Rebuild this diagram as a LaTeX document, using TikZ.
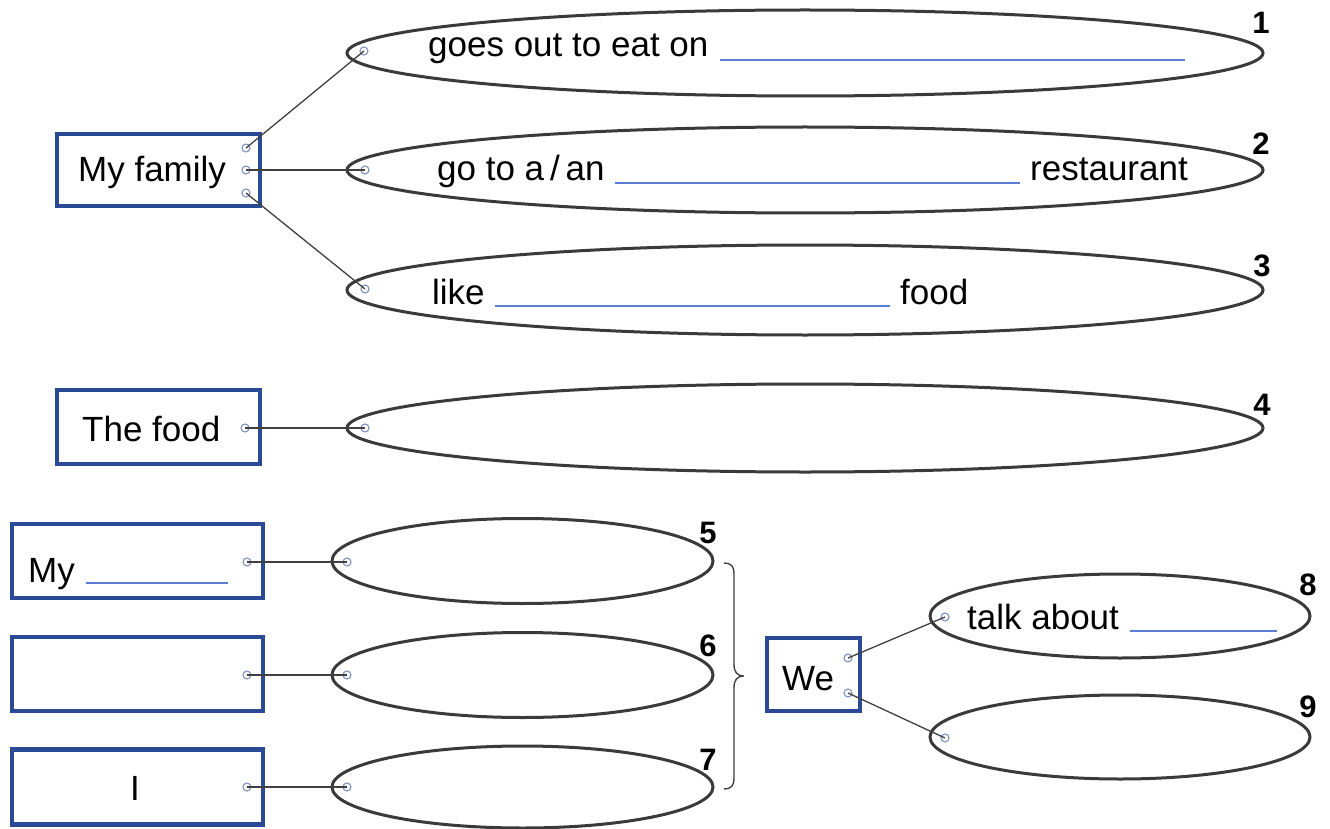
\documentclass[tikz,border=0pt]{standalone}
\usepackage{fontspec}
\setmainfont{Liberation Sans}
\usetikzlibrary{shapes.geometric}
\definecolor{boxblue}{HTML}{2B4A96}
\definecolor{ellgray}{HTML}{3A3A3A}
\definecolor{linegray}{HTML}{404040}
\definecolor{dotblue}{HTML}{7F8FC0}
\definecolor{blankblue}{HTML}{5A7ED6}
\begin{document}
\begin{tikzpicture}[x=1pt,y=-1pt,
 labelbox/.style={draw=boxblue, line width=4.3pt, rectangle, inner sep=0pt},
 oval/.style={draw=ellgray, line width=3pt, ellipse, inner sep=0pt},
 dot/.style={draw=dotblue, line width=1.1pt, circle, inner sep=0pt, minimum size=8pt},
 conn/.style={draw=linegray, line width=1.3pt},
 blank/.style={draw=blankblue, line width=1.3pt},
 txt/.style={font=\fontsize{35}{40}\selectfont, inner sep=0pt, anchor=base west},
 num/.style={font=\fontsize{31}{36}\selectfont\bfseries, inner sep=0pt}]
\useasboundingbox (0,0) rectangle (1330,829);

% boxes
\node[labelbox, minimum width=203pt, minimum height=72pt] (fam) at (158.5,170) {};
\node[labelbox, minimum width=203pt, minimum height=74pt] (food) at (158.5,427) {};
\node[labelbox, minimum width=251pt, minimum height=74pt] (b5) at (137.5,561) {};
\node[labelbox, minimum width=251pt, minimum height=74pt] (b6) at (137.5,674) {};
\node[labelbox, minimum width=251pt, minimum height=75pt] (b7) at (137.5,787) {};
\node[labelbox, minimum width=93pt, minimum height=73pt] (we) at (813.5,674.5) {};

% ellipses
\node[oval, minimum width=916pt, minimum height=86pt] (e1) at (805,53) {};
\node[oval, minimum width=916pt, minimum height=86pt] (e2) at (805,170) {};
\node[oval, minimum width=916pt, minimum height=90pt] (e3) at (805,290) {};
\node[oval, minimum width=916pt, minimum height=88pt] (e4) at (805,428) {};
\node[oval, minimum width=381pt, minimum height=85pt] (e5) at (522.5,561) {};
\node[oval, minimum width=381pt, minimum height=85pt] (e6) at (522.5,675) {};
\node[oval, minimum width=381pt, minimum height=82pt] (e7) at (522.5,787) {};
\node[oval, minimum width=380pt, minimum height=84pt] (e8) at (1120,616) {};
\node[oval, minimum width=380pt, minimum height=84pt] (e9) at (1120,737) {};

% texts
\node[txt] (tfam) at (78,182) {My family};
\node[txt] (tfood) at (82,441) {The food};
\node[txt] (tmy) at (28,582) {My};
\node[txt] (ti) at (130,800) {I};
\node[txt] (twe) at (782,690) {We};
\node[txt] (t1) at (428,57) {goes out to eat on};
\node[txt] (t2a) at (437,181) {go to a\,/\,an};
\node[txt] (t2b) at (1030,181) {restaurant};
\node[txt] (t3a) at (432,304) {like};
\node[txt] (t3b) at (900,304) {food};
\node[txt] (t8) at (967,629) {talk about};

% blanks
\draw[blank] (720,60) -- (1185,60);
\draw[blank] (615,183) -- (1020,183);
\draw[blank] (495,306) -- (890,306);
\draw[blank] (86,583) -- (228,583);
\draw[blank] (1130,631) -- (1277,631);

% numbers
\node[num] (n1) at (1261,23) {1};
\node[num] (n2) at (1261,144) {2};
\node[num] (n3) at (1262,266) {3};
\node[num] (n4) at (1262,405) {4};
\node[num] (n5) at (708,533) {5};
\node[num] (n6) at (708,646) {6};
\node[num] (n7) at (708,760) {7};
\node[num] (n8) at (1308,585) {8};
\node[num] (n9) at (1308,707) {9};

% connection dots
\node[dot] (fa) at (246,148) {};
\node[dot] (fb) at (246,170) {};
\node[dot] (fc) at (246,193) {};
\node[dot] (e1p) at (364,51) {};
\node[dot] (e2p) at (365,170) {};
\node[dot] (e3p) at (365,289) {};
\node[dot] (fdp) at (245,428) {};
\node[dot] (e4p) at (365,428) {};
\node[dot] (b5p) at (247,562) {};
\node[dot] (b6p) at (247,675) {};
\node[dot] (b7p) at (247,787) {};
\node[dot] (e5p) at (347,562) {};
\node[dot] (e6p) at (347,675) {};
\node[dot] (e7p) at (347,787) {};
\node[dot] (wa) at (848,658) {};
\node[dot] (wb) at (848,693) {};
\node[dot] (e8p) at (945,617) {};
\node[dot] (e9p) at (945,738) {};

% connectors
\draw[conn] (fa.center) -- (e1p.center);
\draw[conn] (fb.center) -- (e2p.center);
\draw[conn] (fc.center) -- (e3p.center);
\draw[conn] (fdp.center) -- (e4p.center);
\draw[conn] (b5p.center) -- (e5p.center);
\draw[conn] (b6p.center) -- (e6p.center);
\draw[conn] (b7p.center) -- (e7p.center);
\draw[conn] (wa.center) -- (e8p.center);
\draw[conn] (wb.center) -- (e9p.center);

% brace
\coordinate (btip) at (744,676);
\draw[draw=linegray, line width=1.4pt]
  (724,563) .. controls (731,563) and (734,566) .. (734,574)
  -- (734,664) .. controls (734,672) and (737,676) .. (btip)
  .. controls (737,676) and (734,680) .. (734,688)
  -- (734,778) .. controls (734,786) and (731,789) .. (724,789);
\end{tikzpicture}
\end{document}
